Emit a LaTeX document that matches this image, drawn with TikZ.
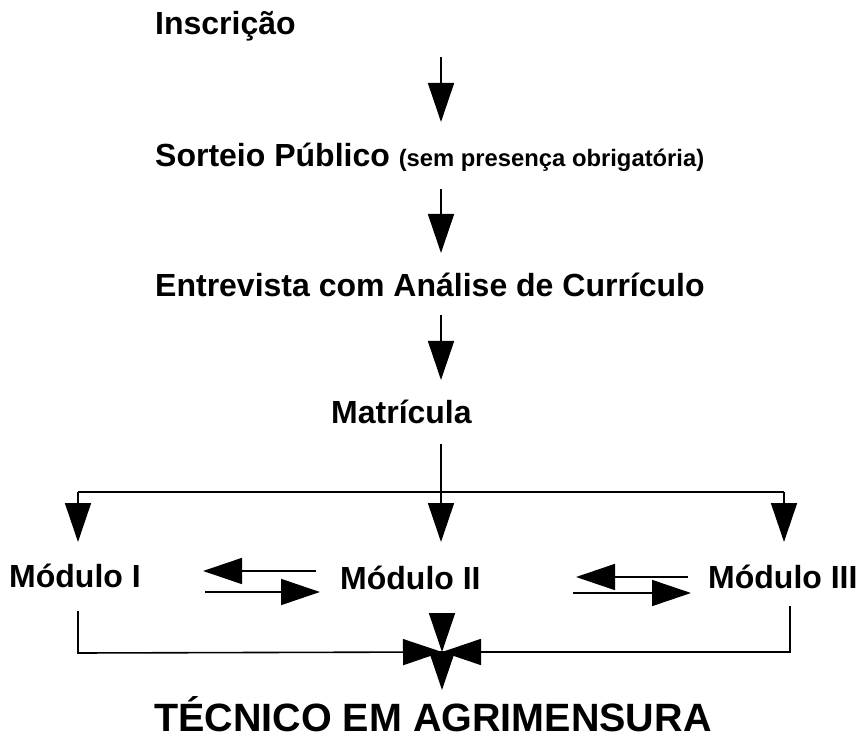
\documentclass[tikz,border=0pt]{standalone}
\usepackage{fontspec}
\setmainfont{Liberation Sans}
\usetikzlibrary{arrows.meta}
\tikzset{
  lbl/.style={anchor=base west, inner sep=0pt, font=\fontsize{32}{36}\selectfont\bfseries},
  biglbl/.style={lbl, font=\fontsize{39.5}{44}\selectfont\bfseries},
  conn/.style={line width=1.6pt, black},
  arr/.style={conn, -{Triangle[length=39pt,width=26pt]}},
}
\begin{document}
\begin{tikzpicture}[x=1pt,y=-1pt]
\useasboundingbox (0,0) rectangle (863,738);
% texts
\node[lbl] (ins) at (155,35) {Inscrição};
\node[lbl] (sort) at (155,166.7) {Sorteio Público {\fontsize{23.8}{28}\selectfont(sem presença obrigatória)}};
\node[lbl] (entr) at (155,297) {Entrevista com Análise de Currículo};
\node[lbl] (matr) at (331,423.5) {Matrícula};
\node[lbl] (m1) at (9,587) {Módulo I};
\node[lbl] (m2) at (340,589) {Módulo II};
\node[lbl] (m3) at (708,588) {Módulo III};
\node[biglbl] (tec) at (154,731) {TÉCNICO EM AGRIMENSURA};
% coordinates
\coordinate (a1s) at (441,57);  \coordinate (a1e) at (441,122);
\coordinate (a2s) at (441,189); \coordinate (a2e) at (441,253);
\coordinate (a3s) at (441,315); \coordinate (a3e) at (441,380);
\coordinate (ms) at (441,444);
\coordinate (bl) at (78,492); \coordinate (bm) at (441,492); \coordinate (br) at (784,492);
\coordinate (ble) at (78,542); \coordinate (bme) at (441,542); \coordinate (bre) at (784,542);
\coordinate (p1a) at (316,571); \coordinate (p1b) at (203,571);
\coordinate (p1c) at (205,592); \coordinate (p1d) at (320,592);
\coordinate (p2a) at (688,577); \coordinate (p2b) at (576,577);
\coordinate (p2c) at (573,593); \coordinate (p2d) at (691,593);
\coordinate (l1) at (78,611); \coordinate (l2) at (78,653);
\coordinate (r1) at (790,606); \coordinate (r2) at (790,652);
\coordinate (c) at (442,652);
\coordinate (m2s) at (442,613);
\coordinate (te) at (442,690);
% vertical flow
\draw[arr] (a1s) -- (a1e);
\draw[arr] (a2s) -- (a2e);
\draw[arr] (a3s) -- (a3e);
% branch
\draw[conn] (ms) -- (bm);
\draw[conn] (bl) -- (br);
\draw[arr] (bl) -- (ble);
\draw[arr] (bm) -- (bme);
\draw[arr] (br) -- (bre);
% module exchanges
\draw[arr] (p1a) -- (p1b);
\draw[arr] (p1c) -- (p1d);
\draw[arr] (p2a) -- (p2b);
\draw[arr] (p2c) -- (p2d);
% merge
\draw[arr] (l1) -- (l2) -- (c);
\draw[arr] (r1) -- (r2) -- (c);
\draw[arr] (m2s) -- (c);
\draw[arr] (c) -- (te);
\end{tikzpicture}
\end{document}
